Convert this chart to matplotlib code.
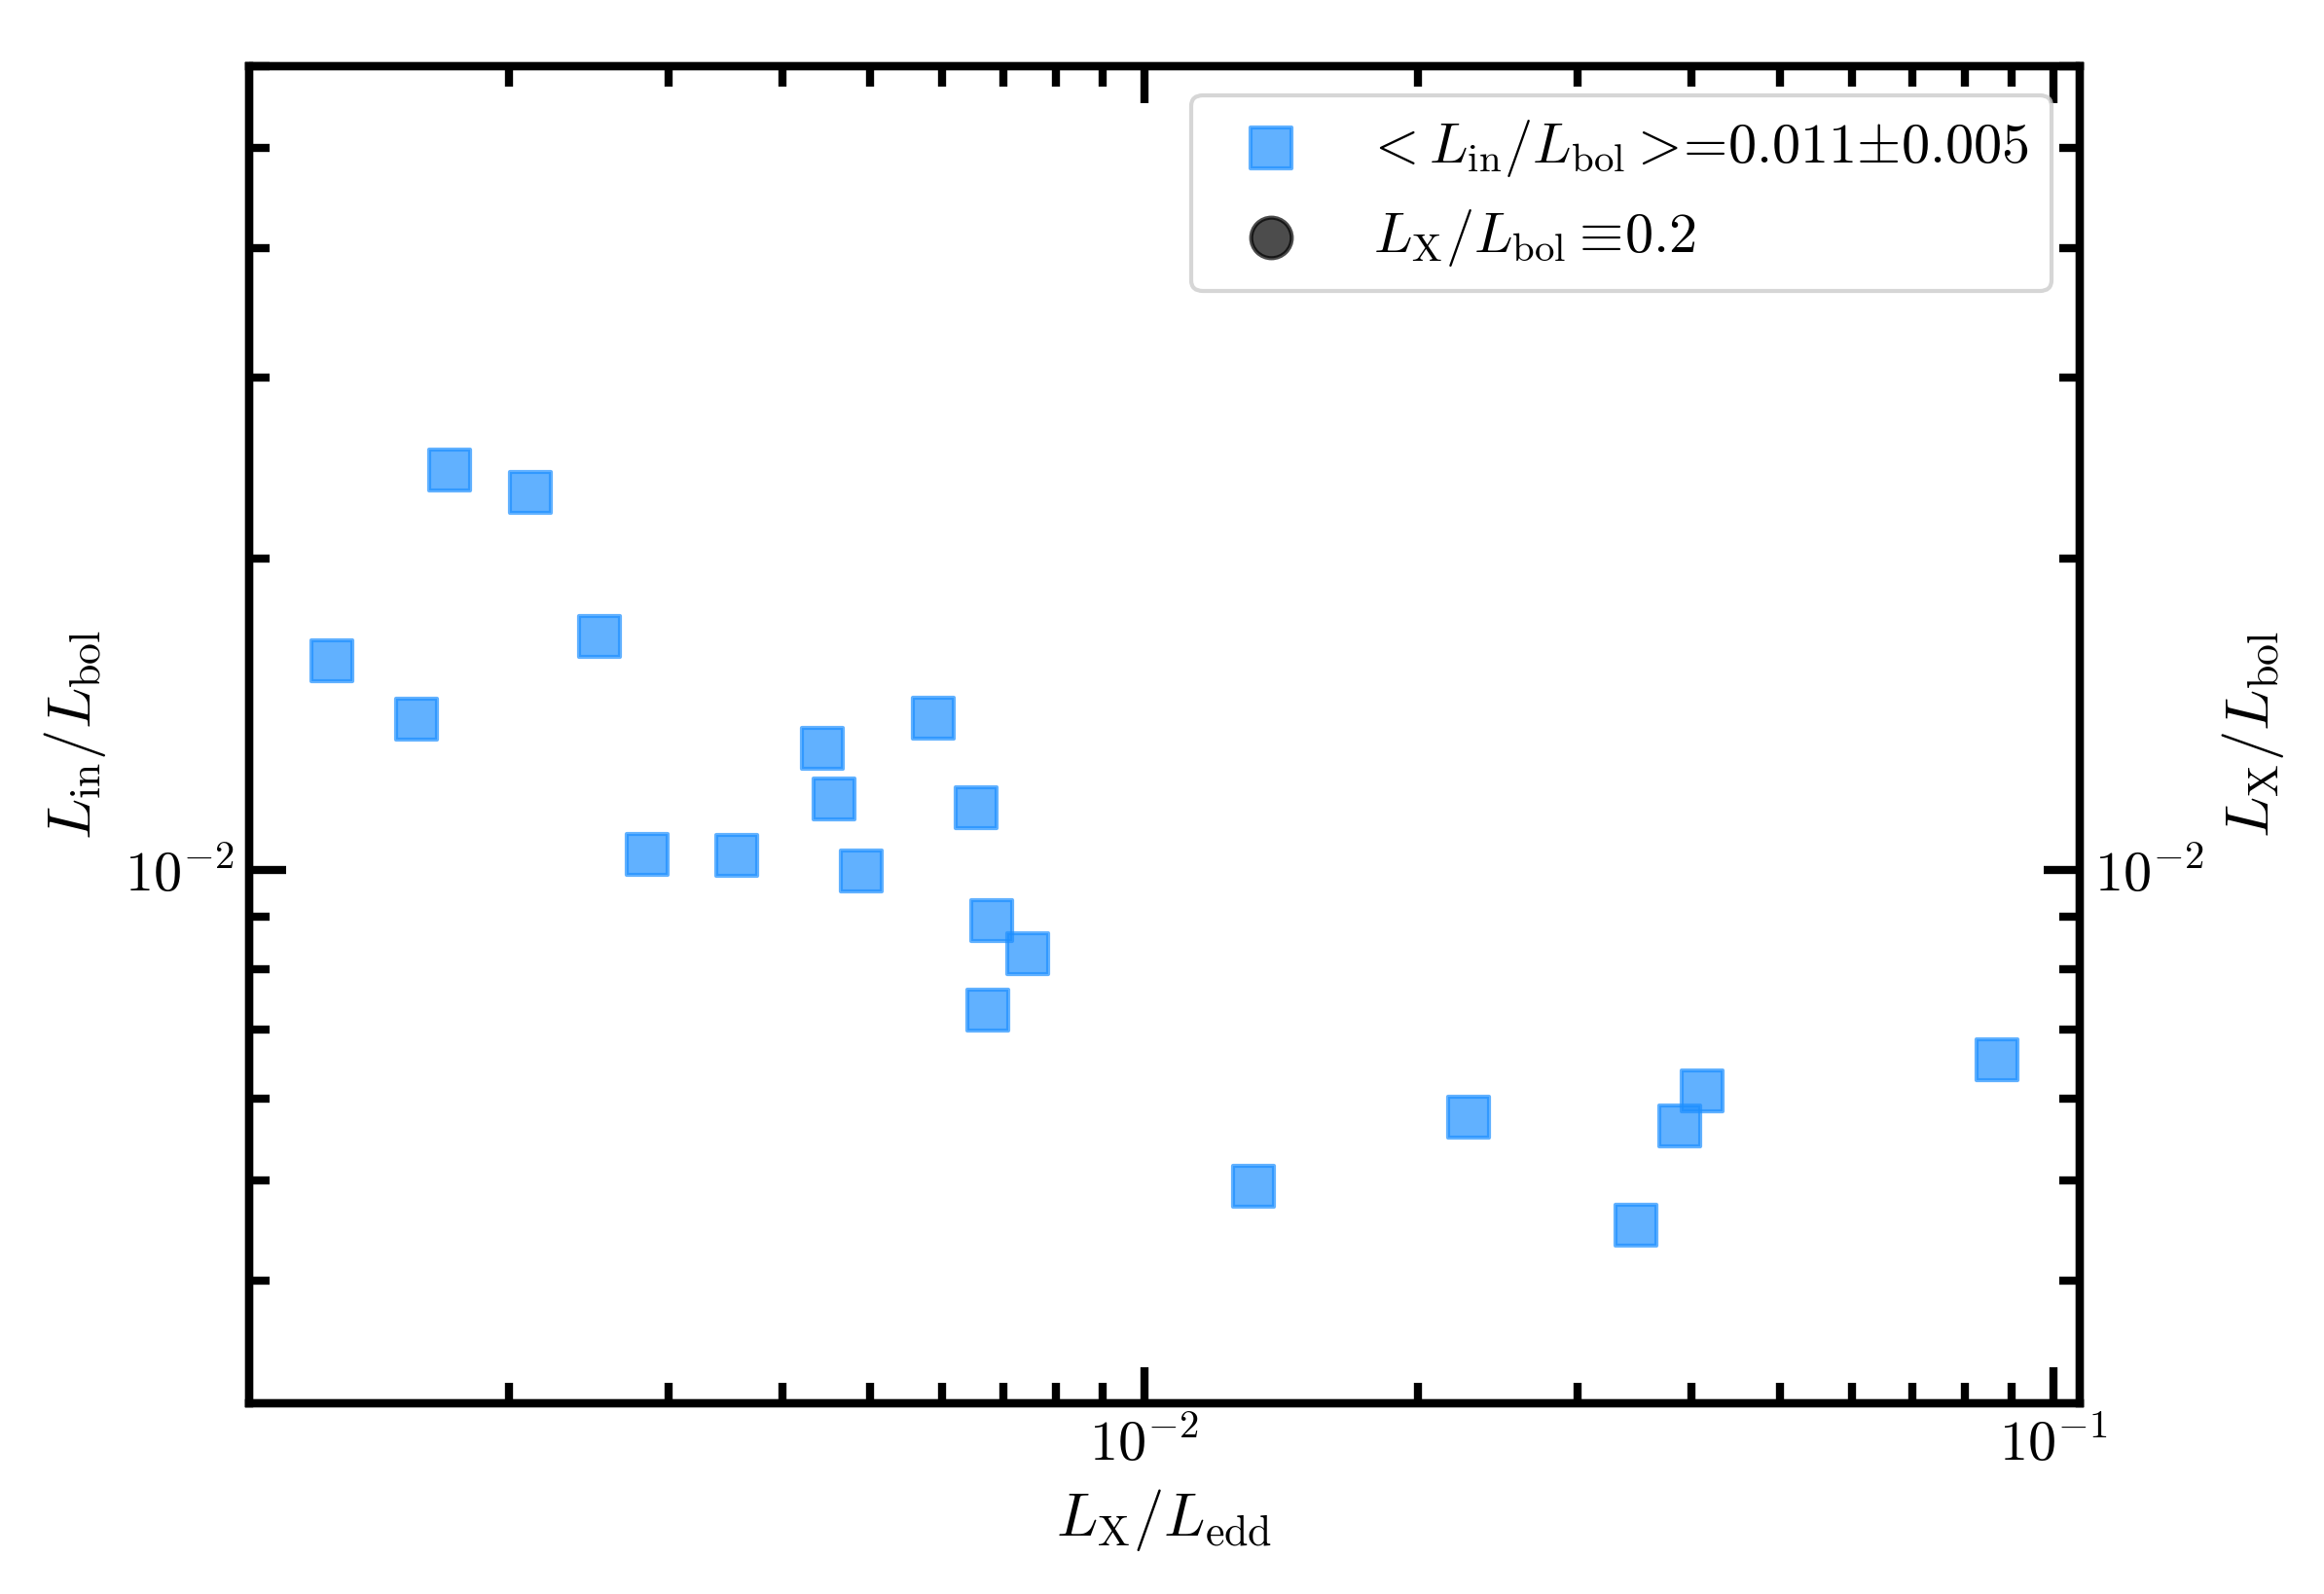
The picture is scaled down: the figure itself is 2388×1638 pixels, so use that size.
import matplotlib
matplotlib.use("Agg")
import matplotlib.pyplot as plt

# estilo tipo LaTeX (Computer Modern)
plt.rcParams['font.family'] = 'serif'
plt.rcParams['font.serif'] = ['cmr10', 'DejaVu Serif']
plt.rcParams['mathtext.fontset'] = 'cm'
plt.rcParams['axes.formatter.use_mathtext'] = True
plt.rcParams['font.size'] = 15

# datos
lx_ledd = [0.001279, 0.001585, 0.001722, 0.002111, 0.002518, 0.002837, 0.003566,
           0.004422, 0.004561, 0.004888, 0.005863, 0.006527, 0.006789, 0.007449,
           0.006729, 0.01319, 0.02272, 0.03471, 0.03879, 0.04108, 0.08664]
lin_lbol = [0.01594, 0.01400, 0.02437, 0.02322, 0.01683, 0.01035, 0.01033,
            0.01312, 0.01170, 0.00996, 0.01401, 0.01148, 0.008915, 0.008297,
            0.007302, 0.004932, 0.005752, 0.004526, 0.005648, 0.006101, 0.006547]
lx_lbol = [0.2] * len(lx_ledd)   # fuera del rango visible

xlim = (1.035e-3, 0.107)
ylim = (3.04e-3, 0.060)

fig = plt.figure(figsize=(7.96, 5.46), dpi=300)
ax = fig.add_axes([0.107, 0.1197, 0.788, 0.8385])

s1 = ax.scatter(lx_ledd, lin_lbol, marker='s', s=100, color='dodgerblue', alpha=0.7,
                label=r'$\!<L_{\rm in}/L_{\rm bol}>\!$=0.011$\pm$0.005')
ax.set_xscale('log')
ax.set_yscale('log')
ax.set_xlim(*xlim)
ax.set_ylim(*ylim)
ax.set_xlabel(r'$L_{\rm X}/L_{\rm edd}$')
ax.set_ylabel(r'$L_{\rm in}/L_{\rm bol}$')

ax2 = ax.twinx()
s2 = ax2.scatter(lx_ledd, lx_lbol, marker='o', s=100, color='k', alpha=0.7,
                 label=r'$L_{\rm X}/L_{\rm bol}\equiv\!$0.2')
ax2.set_yscale('log')
ax2.set_ylim(*ylim)
ax2.set_ylabel(r'$L_{\rm X}/L_{\rm bol}$')

for a in (ax, ax2):
    for sp in a.spines.values():
        sp.set_linewidth(2)
    a.tick_params(which='major', direction='in', length=9, width=2, labelsize=14)
    a.tick_params(which='minor', direction='in', length=5, width=2)
ax.tick_params(which='both', top=True, right=False)
ax2.tick_params(which='both', right=True, left=False)

ax2.legend([s1, s2], [s1.get_label(), s2.get_label()], loc='upper right',
           scatterpoints=1, fontsize=14)

fig.savefig('out.png', dpi=300)
